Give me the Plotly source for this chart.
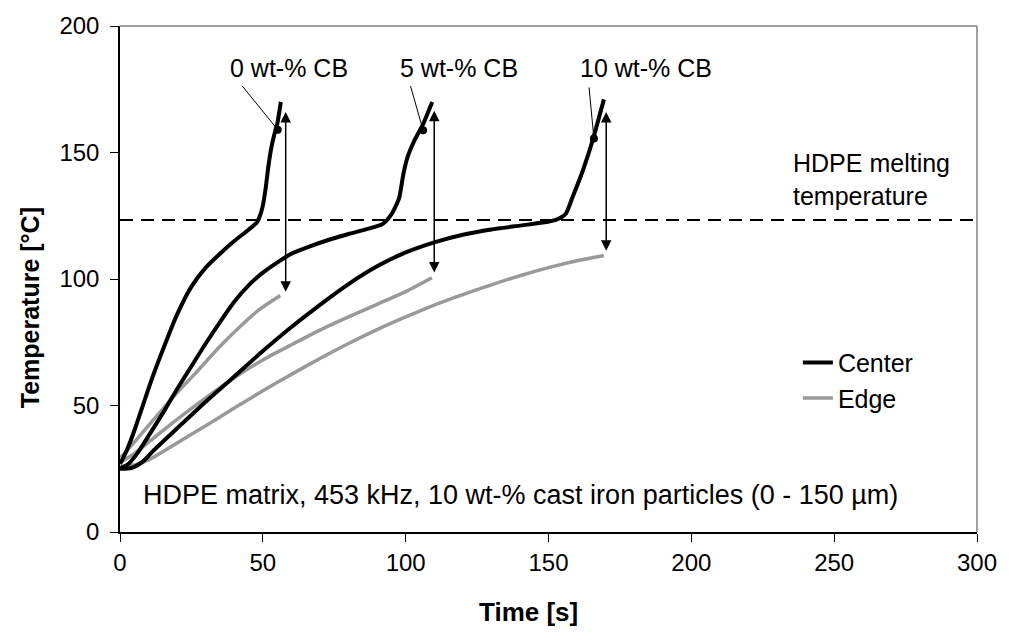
import plotly.graph_objects as go

# Heating curves: time [s] vs temperature [°C]
# Center of sample (black) for 0, 5 and 10 wt-% carbon black
c0_t = [0, 1, 3, 5, 8, 11, 15, 20, 25, 30, 35, 40, 45, 48, 49, 50, 51, 52, 53, 54, 55, 56.3]
c0_T = [27, 29, 34, 40, 50, 60, 72, 86, 97, 104.5, 110, 115, 119.5, 122.5, 125, 129, 136, 145, 152, 157, 161, 170]

c5_t = [0, 3, 6, 10, 15, 20, 25, 30, 35, 40, 45, 50, 55, 60, 66, 74, 80, 86, 92, 95, 97.7, 99.2, 100.6, 103, 106, 109.3]
c5_T = [25, 27, 31, 38, 47, 56.5, 65.5, 74.5, 83, 91, 97.5, 102.5, 106.5, 110, 112.7, 115.8, 117.8, 119.6, 121.8, 125.5, 132, 141.5, 148, 154.6, 161, 170]

c10_t = [0, 4, 8, 12, 20, 30, 40, 50, 60, 70, 80, 90, 100, 110, 120, 130, 140, 148, 153, 156, 158.4, 162, 165.4, 169.4]
c10_T = [25, 25.3, 27.8, 32.5, 41, 51.5, 61.5, 71.5, 81, 89.8, 98, 105, 110.5, 114.5, 117.5, 119.6, 121.1, 122.3, 123.6, 125.7, 132.3, 142.8, 154.6, 171]

# Edge of sample (grey)
e0_t = [0, 1.2, 5.8, 11.6, 19.7, 26.6, 34.7, 42.8, 48.6, 56.1]
e0_T = [29.5, 30.6, 36.5, 44.2, 54.7, 63, 73, 82, 87.8, 93.5]

e5_t = [0, 5, 10, 20, 30, 40, 50, 60, 70, 80, 90, 100, 109.2]
e5_T = [27.5, 31, 35.5, 44.5, 53, 61, 68, 74, 79.8, 85, 90, 95, 100.5]

e10_t = [0, 5, 10, 20, 30, 40, 50, 60, 70, 80, 90, 100, 110, 120, 130, 140, 150, 160, 169.4]
e10_T = [26, 26.5, 28.5, 35.2, 42, 49, 55.8, 62.3, 68.6, 74.5, 80, 85, 89.7, 93.8, 97.7, 101.3, 104.5, 107.2, 109.3]

# Labelled points on the center curves and their text labels
dot_t = [55.2, 106.1, 165.9]
dot_T = [159, 158.8, 155.5]
label_text = ["0 wt-% CB", "5 wt-% CB", "10 wt-% CB"]
label_t = [59, 118.5, 184]
label_T = [183.5, 183.5, 183.5]
leader_t = [42.8, 101.7, 164.2]
leader_T = [176.3, 176.3, 175.7]

# Center-to-edge temperature difference arrows
arrow_t = [58.0, 110.0, 170.2]
arrow_top = [166.0, 166.5, 166.0]
arrow_bottom = [94.4, 102.0, 110.6]

melt_T = 123.3
x_ticks = [0, 50, 100, 150, 200, 250, 300]
y_ticks = [0, 50, 100, 150, 200]

BLACK = "#000000"
GREY = "#999999"
FONT = "Liberation Sans, Arial, sans-serif"
TXT = 25

fig = go.Figure()

# melting temperature reference line
fig.add_trace(go.Scatter(x=[0, 300], y=[melt_T, melt_T], mode="lines",
                         line=dict(color=BLACK, width=2, dash="13px,8px"),
                         showlegend=False, hoverinfo="skip"))

for i, (t, T) in enumerate([(e0_t, e0_T), (e5_t, e5_T), (e10_t, e10_T)]):
    fig.add_trace(go.Scatter(x=t, y=T, mode="lines", name="Edge",
                             legendgroup="edge", showlegend=(i == 0),
                             legendrank=2,
                             line=dict(color=GREY, width=3.5, shape="spline", smoothing=0.6)))

for i, (t, T) in enumerate([(c0_t, c0_T), (c5_t, c5_T), (c10_t, c10_T)]):
    fig.add_trace(go.Scatter(x=t, y=T, mode="lines", name="Center",
                             legendgroup="center", showlegend=(i == 0),
                             legendrank=1,
                             line=dict(color=BLACK, width=4, shape="spline", smoothing=0.6)))

fig.add_trace(go.Scatter(x=dot_t, y=dot_T, mode="markers",
                         marker=dict(color=BLACK, size=8),
                         showlegend=False, hoverinfo="skip"))

# leader lines from labels to points
for lt, lT, dt, dT in zip(leader_t, leader_T, dot_t, dot_T):
    fig.add_shape(type="line", x0=lt, y0=lT, x1=dt, y1=dT, xref="x", yref="y",
                  line=dict(color=BLACK, width=1))

for txt, lt, lT in zip(label_text, label_t, label_T):
    fig.add_annotation(x=lt, y=lT, text=txt, showarrow=False,
                       font=dict(family=FONT, size=TXT, color=BLACK))

# double-headed arrows
for at, top, bot in zip(arrow_t, arrow_top, arrow_bottom):
    fig.add_annotation(x=at, y=top, ax=at, ay=bot, axref="x", ayref="y",
                       xref="x", yref="y", text="", showarrow=True,
                       arrowhead=2, arrowside="end+start", arrowsize=1.4,
                       arrowwidth=1.5, arrowcolor=BLACK, standoff=0, startstandoff=0)

fig.add_annotation(x=234.8, y=139.3, text="HDPE melting<br>temperature", showarrow=False,
                   xanchor="left", yanchor="middle", align="left",
                   font=dict(family=FONT, size=TXT, color=BLACK))

fig.add_annotation(x=7.3, y=14.6,
                   text="HDPE matrix, 453 kHz, 10 wt-% cast iron particles (0 - 150 µm)",
                   showarrow=False, xanchor="left", yanchor="middle",
                   font=dict(family=FONT, size=27, color=BLACK))

# axis titles
fig.add_annotation(xref="paper", yref="paper", x=(532 - 120) / 865, y=(532 - 612) / 507,
                   text="<b>Time [s]</b>", showarrow=False, xanchor="center", yanchor="middle",
                   font=dict(family=FONT, size=26, color=BLACK))
fig.add_annotation(xref="paper", yref="paper", x=(30 - 120) / 865, y=(532 - 307) / 507,
                   text="<b>Temperature [°C]</b>", showarrow=False, textangle=-90,
                   xanchor="center", yanchor="middle",
                   font=dict(family=FONT, size=25, color=BLACK))

# grey frame on top and right of the plot area
fig.add_shape(type="line", xref="paper", yref="paper", x0=0, y0=1, x1=1, y1=1,
              line=dict(color="#808080", width=1.5))
fig.add_shape(type="line", xref="paper", yref="paper", x0=1, y0=0, x1=1, y1=1,
              line=dict(color="#808080", width=1.5))

fig.update_layout(
    width=1009, height=635,
    margin=dict(l=120, r=24, t=25, b=103),
    paper_bgcolor="white", plot_bgcolor="white",
    font=dict(family=FONT, size=TXT, color=BLACK),
    legend=dict(x=0.791, y=0.38, xanchor="left", yanchor="top",
                bgcolor="rgba(0,0,0,0)", font=dict(family=FONT, size=TXT),
                tracegroupgap=0, itemwidth=30),
    xaxis=dict(range=[0, 300], tickvals=x_ticks, showgrid=False, zeroline=False,
               showline=True, linecolor=BLACK, linewidth=1.5,
               ticks="outside", ticklen=8, tickcolor=BLACK, tickwidth=1,
               tickfont=dict(family=FONT, size=24)),
    yaxis=dict(range=[0, 200], tickvals=y_ticks, showgrid=False, zeroline=False,
               showline=True, linecolor=BLACK, linewidth=1.5,
               ticks="outside", ticklen=8, tickcolor=BLACK, tickwidth=1,
               ticklabelstandoff=6,
               tickfont=dict(family=FONT, size=24)),
)

fig.write_html("out.html")
